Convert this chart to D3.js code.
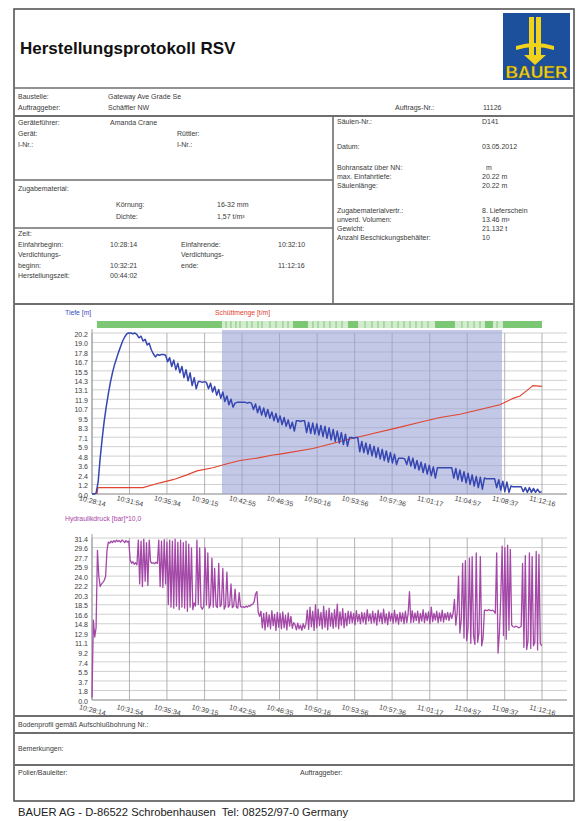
<!DOCTYPE html>
<html>
<head>
<meta charset="utf-8">
<script src="https://cdn.jsdelivr.net/npm/d3@7"></script>
<style>
  body { margin: 0; background: #fff; }
  svg { display: block; }
  text { font-family: "Liberation Sans", Arial, sans-serif; white-space: pre; }
</style>
</head>
<body>
<svg id="page" width="577" height="821"></svg>
<script>
// ---- time axis (shared by both diagrams) ----
const timeLabels = ["10:28:14", "10:31:54", "10:35:34", "10:39:15", "10:42:55", "10:46:35", "10:50:16",
                    "10:53:56", "10:57:36", "11:01:17", "11:04:57", "11:08:37", "11:12:16"];

// ---- y tick labels ----
const depthTicks = ["0.0", "1.2", "2.4", "3.6", "4.8", "5.9", "7.1", "8.3", "9.5", "10.7", "11.9",
                    "13.1", "14.3", "15.5", "16.7", "17.8", "19.0", "20.2"];
const pressureTicks = ["0.0", "1.8", "3.7", "5.5", "7.4", "9.2", "11.1", "12.9", "14.8", "16.6", "18.5",
                       "20.3", "22.2", "24.0", "25.9", "27.7", "29.6", "31.4"];

// ---- Tiefe [m], one reading every 12 s from Einfahrbeginn ----
const depthStep = 12;
const depth = [
  0, 0, 0.1, 1.5, 4.5, 7.0, 9.2, 11.0, 12.6, 14.0, 15.2, 16.2, 17.0, 17.8, 18.5, 19.2, 19.7, 20.1, 20.2, 20.2, 20.1, 20.2, 20.0,
  19.6, 19.8, 19.2, 19.4, 18.7, 18.9, 18.1, 17.6, 17.2,
  17.5, 17.4, 17.5, 17.5, 17.4,
  16.6, 17.1, 16.0, 16.8, 15.6, 16.4, 15.2, 16.0, 14.6, 15.6, 14.2, 15.2, 13.6, 14.6, 13.2,
  14.1, 14.1, 14.0, 14.1, 14.0,
  13.2, 13.9, 12.8, 13.5, 12.4, 13.1, 12.0, 12.8, 11.6, 12.3, 11.2, 11.9, 10.9,
  11.4, 11.5, 11.5, 11.5, 11.5, 11.5, 11.4, 11.5, 11.4,
  10.6, 11.3, 10.2, 11.0, 9.9, 10.8, 9.7, 10.6, 9.5, 10.3, 9.2, 10.1, 9.0, 9.8, 8.7, 9.6, 8.5, 9.3, 8.2, 9.0, 7.9,
  9.2, 9.2, 9.1, 9.2, 9.2,
  7.7, 9.0, 7.6, 8.9, 7.5, 8.8, 7.4, 8.6, 7.2, 8.5, 7.0, 8.3, 6.8, 8.1, 6.6, 7.9, 6.4, 7.7, 6.2, 7.5, 6.0,
  7.1, 7.1, 7.0, 7.1, 7.1,
  5.3, 6.6, 5.2, 6.4, 5.0, 6.2, 4.8, 6.0, 4.6, 5.8, 4.4, 5.6, 4.2, 5.4, 4.0, 5.2, 3.9, 5.0, 3.7,
  4.5, 4.5, 4.5, 4.4,
  3.7, 4.7, 3.5, 4.5, 3.2, 4.2, 3.0, 4.0, 2.7, 3.8, 2.5, 3.6, 2.3, 3.4, 2.0,
  3.3, 3.3, 3.3, 3.3, 3.3, 3.3, 3.3, 3.3,
  2.0, 3.2, 1.8, 3.0, 1.6, 2.8, 1.4, 2.6, 1.2, 2.4, 1.0, 2.2, 0.8, 2.1, 0.6, 2.0,
  1.9, 1.9, 1.9, 1.9, 1.9,
  0.8, 1.8, 0.5, 1.6, 0.3, 1.5, 0.2, 1.0,
  0.9, 0.9, 0.9, 0.9, 0.9,
  0.3, 0.8, 0.2, 0.8, 0.2, 0.7, 0.2, 0.6, 0.2, 0.3
];

// ---- Schüttmenge, seconds after Einfahrbeginn ----
const fillTimes  = [0, 30, 35, 299, 399, 476, 558, 616, 710, 793, 869, 969, 1063, 1104, 1297, 1497, 1650,
                    1791, 1926, 2043, 2161, 2278, 2395, 2472, 2513, 2560, 2589, 2642];
const fillValues = [0, 0.1, 0.8, 0.8, 1.4, 1.8, 2.4, 2.9, 3.3, 3.8, 4.2, 4.5, 4.9, 5.0, 5.7, 6.8, 7.6,
                    8.3, 9.0, 9.6, 10.0, 10.6, 11.2, 12.0, 12.3, 13.1, 13.6, 13.5];

// ---- Hydraulikdruck [bar]*10, one reading every 8 s ----
const pressureStep = 8;
const pressure = [
  0.5, 15.5, 12.2, 14.0, 29.0, 24.0, 22.0, 22.5, 22.8, 23.2, 24.0, 29.0, 30.6, 30.4, 30.8, 30.5, 30.9,
  30.6, 31.0, 30.7, 30.9, 30.6, 31.0, 30.8, 30.5, 30.9, 30.6, 30.8, 27.2, 26.5, 26.8, 26.3, 26.6, 26.2,
  31.0, 22.5, 30.8, 22.0, 31.2, 23.0, 30.5, 22.2, 31.0, 26.8, 26.5, 26.6, 26.4, 26.7, 26.5, 31.0, 22.0,
  30.8, 21.8, 31.1, 22.5, 30.6,
  18.5, 31.0, 18.0, 30.8, 17.8, 31.2, 18.2, 30.6, 17.5, 31.0, 18.0, 30.5, 17.8, 30.8, 17.2, 30.2, 18.0, 29.5, 17.5,
  18.8, 18.2, 31.0, 18.5, 29.5, 18.0, 17.6, 18.2, 29.5, 18.4, 28.5, 17.8, 18.6, 27.5, 18.0, 25.5, 18.3, 17.9,
  26.5, 18.1, 18.5, 25.5, 17.6, 18.2, 24.8, 18.0, 18.4, 22.5, 17.9, 18.2, 21.5, 18.0, 17.8, 20.8, 18.1, 18.0,
  18.1, 17.9, 18.2, 18.0, 18.3, 18.2, 18.5, 18.6, 19.0, 20.5, 21.0,
  17.0, 16.2,
  17.2, 14.0, 16.8, 13.6, 17.0, 14.2, 16.5, 13.8, 17.3, 14.4, 16.6, 13.5, 17.0, 14.1,
  16.8, 13.8, 17.1, 14.0, 16.4, 13.6, 16.9, 14.3, 16.2, 13.9, 15.0,
  14.6, 13.6, 14.9, 13.8, 14.5, 13.5, 14.8, 13.9, 14.7,
  17.4, 13.7, 18.0, 14.2, 17.2, 13.5, 18.5, 14.0, 17.6, 14.4, 17.0, 13.8, 18.2, 14.1, 17.3, 13.6, 17.8, 14.3,
  16.9, 13.9, 17.5, 14.2, 18.6, 13.8, 17.1, 14.5, 17.7, 14.0, 16.8, 14.4, 17.2,
  14.9, 17.1, 15.0, 16.8, 14.6, 17.3, 15.2, 16.6, 14.8, 17.0, 15.1, 16.9, 14.7, 17.5, 15.3, 16.7, 14.9, 17.2,
  15.0, 16.8, 14.5, 17.4, 15.2, 16.9, 14.8, 17.6, 15.0, 16.7, 14.6, 17.1, 15.3, 16.8, 14.9, 17.4, 15.1, 16.6,
  14.7, 17.0, 15.2, 16.9, 14.8, 17.2, 15.0, 16.7,
  21.0, 15.0,
  17.3, 15.1, 16.9, 15.4, 17.2, 14.9, 16.8, 15.3, 17.5, 15.0, 16.9, 15.4, 17.1, 14.8, 18.0, 15.2, 16.8, 15.5,
  17.2, 15.0, 16.9, 15.3, 17.4, 15.1, 16.8, 15.6, 17.0, 15.4, 16.9, 15.8,
  16.8, 19.5, 14.5, 17.0, 24.0, 13.0, 15.5, 26.5, 12.0, 27.0, 11.5, 14.0, 27.5, 11.0, 27.8, 12.5, 10.8, 28.5,
  11.2, 13.0, 27.8, 10.5, 12.0, 17.4,
  17.4, 17.3, 17.5, 17.4, 17.3, 17.4, 17.2, 16.8,
  28.5, 9.1, 13.0, 20.0, 29.8, 12.5, 29.5, 11.8, 30.0, 13.5, 29.2, 14.5,
  14.2, 14.1, 14.3, 14.2, 14.0, 14.1, 14.3,
  26.5, 10.2, 28.0, 9.8, 11.5, 28.5, 10.0, 27.8, 10.5, 11.2, 28.8, 9.7, 28.2, 11.0, 10.5
];

// ---- status strip above the depth diagram (seconds) ----
const statusFull = [[29, 763], [1180, 1268], [1503, 1562], [2014, 2131], [2307, 2354], [2413, 2642]];
const statusPartial = [[763, 2413]];
const statusMarks = [787, 816, 845, 869, 910, 939, 975, 998, 1045, 1080, 1121, 1151, 1297, 1327, 1362,
                     1397, 1433, 1468, 1603, 1644, 1679, 1714, 1761, 1797, 1832, 1867, 1902, 1937, 1973,
                     2172, 2207, 2243, 2278, 2378];
// compaction phase band (seconds)
const compactionBand = [763, 2407];

// =====================================================================
const svg = d3.select("#page");
const ink = "#3a3a3a";
const rule = "#6e6e6e";

// ---- page frame ----
svg.append("rect").attr("x", 14).attr("y", 9).attr("width", 560).attr("height", 792)
  .attr("fill", "none").attr("stroke", "#555").attr("stroke-width", 1.6);

function hline(y, x1 = 14, x2 = 574, w = 1.6) {
  svg.append("line").attr("x1", x1).attr("x2", x2).attr("y1", y).attr("y2", y)
    .attr("stroke", rule).attr("stroke-width", w);
}
function vline(x, y1, y2, w = 1.6) {
  svg.append("line").attr("x1", x).attr("x2", x).attr("y1", y1).attr("y2", y2)
    .attr("stroke", rule).attr("stroke-width", w);
}
function txt(s, x, y, opts = {}) {
  return svg.append("text").attr("x", x).attr("y", y)
    .attr("font-size", opts.size || 7).attr("fill", opts.fill || ink)
    .attr("font-weight", opts.weight || null)
    .attr("text-anchor", opts.anchor || "start")
    .text(s);
}

// ---- title and logo ----
txt("Herstellungsprotokoll RSV", 20, 54, { size: 17, weight: "bold", fill: "#111" });

const logo = svg.append("g").attr("transform", "translate(503,13)");
logo.append("rect").attr("width", 67).attr("height", 67).attr("fill", "#1c4f9c");
const gold = "#f1d31c";
logo.append("rect").attr("x", 26).attr("y", 4).attr("width", 5).attr("height", 42).attr("fill", gold);
logo.append("rect").attr("x", 33).attr("y", 4).attr("width", 5).attr("height", 42).attr("fill", gold);
logo.append("path").attr("d", "M13,33 Q32,27 51,33 L51,37 Q32,31 13,37 Z").attr("fill", gold);
logo.append("path").attr("d", "M21,42 L43,42 L32,52 Z").attr("fill", gold);
logo.append("text").attr("x", 33.5).attr("y", 65).attr("text-anchor", "middle")
  .attr("font-size", 16).attr("font-weight", "bold").attr("fill", gold)
  .attr("stroke", "#6b5a10").attr("stroke-width", 0.4)
  .attr("textLength", 62).attr("lengthAdjust", "spacingAndGlyphs").text("BAUER");

// ---- header form ----
hline(88);
txt("Baustelle:", 18, 99); txt("Gateway Ave Grade Se", 108, 99);
txt("Auftraggeber:", 18, 110); txt("Schäffler NW", 108, 110);
txt("Auftrags-Nr.:", 395, 110); txt("11126", 483, 110);
hline(116, 14, 574, 2.2);

vline(333, 116, 304);
txt("Geräteführer:", 18, 125); txt("Amanda Crane", 110, 125);
txt("Gerät:", 18, 136); txt("Rüttler:", 177, 136);
txt("I-Nr.:", 18, 147); txt("I-Nr.:", 177, 147);
hline(180, 14, 333);
txt("Zugabematerial:", 18, 191);
txt("Körnung:", 116, 207); txt("16-32 mm", 217, 207);
txt("Dichte:", 116, 219); txt("1,57 t/m³", 217, 219);
hline(228, 14, 333);
txt("Zeit:", 18, 236);
txt("Einfahrbeginn:", 18, 247); txt("10:28:14", 110, 247);
txt("Einfahrende:", 181, 247); txt("10:32:10", 278, 247);
txt("Verdichtungs-", 18, 257); txt("Verdichtungs-", 181, 257);
txt("beginn:", 18, 268); txt("10:32:21", 110, 268);
txt("ende:", 181, 268); txt("11:12:16", 278, 268);
txt("Herstellungszeit:", 18, 278); txt("00:44:02", 110, 278);

txt("Säulen-Nr.:", 337, 124); txt("D141", 482, 124);
txt("Datum:", 337, 149); txt("03.05.2012", 482, 149);
txt("Bohransatz über NN:", 337, 170); txt("m", 486, 170);
txt("max. Einfahrtiefe:", 337, 179); txt("20.22 m", 482, 179);
txt("Säulenlänge:", 337, 188); txt("20.22 m", 482, 188);
txt("Zugabematerialvertr.:", 337, 213); txt("8. Lieferschein", 482, 213);
txt("unverd. Volumen:", 337, 222); txt("13.46 m³", 482, 222);
txt("Gewicht:", 337, 231); txt("21.132 t", 482, 231);
txt("Anzahl Beschickungsbehälter:", 337, 240); txt("10", 482, 240);
hline(304, 14, 574, 2.2);

// ---- shared time scale ----
const parseT = d3.timeParse("%H:%M:%S");
const tStart = parseT(timeLabels[0]);
const tickSecs = timeLabels.map(s => (parseT(s) - tStart) / 1000);
const x = d3.scaleLinear().domain([0, tickSecs[tickSecs.length - 1]]).range([92, 542]);
const gridRight = 567;

function frame(p) {
  const y = d3.scaleLinear().domain([0, p.max]).range([p.bottom, p.top]);
  const n = p.labels.length;
  const vals = p.labels.map((_, i) => i * p.max / (n - 1));
  const g = svg.append("g");

  g.selectAll("line.h").data(vals).join("line").attr("class", "h")
    .attr("x1", x.range()[0]).attr("x2", gridRight)
    .attr("y1", d => y(d)).attr("y2", d => y(d))
    .attr("stroke", "#c4c4c4").attr("stroke-width", 0.8);
  g.selectAll("line.v").data(tickSecs).join("line").attr("class", "v")
    .attr("x1", d => x(d)).attr("x2", d => x(d))
    .attr("y1", p.top).attr("y2", p.bottom)
    .attr("stroke", "#a0a0a0").attr("stroke-width", 0.8);
  g.append("line").attr("x1", x.range()[0]).attr("x2", gridRight)
    .attr("y1", p.bottom).attr("y2", p.bottom).attr("stroke", "#9a9a9a").attr("stroke-width", 1);
  g.append("line").attr("x1", x.range()[0]).attr("x2", x.range()[0])
    .attr("y1", p.top - 4).attr("y2", p.bottom).attr("stroke", "#9a9a9a").attr("stroke-width", 1);

  const ya = svg.append("g").attr("transform", `translate(${x.range()[0]},0)`)
    .call(d3.axisLeft(y).tickValues(vals).tickFormat((d, i) => p.labels[i]).tickSize(0).tickPadding(4));
  ya.select(".domain").remove();
  ya.selectAll("text").attr("font-size", 7).attr("fill", "#3c3c3c").attr("dy", "0.45em")
    .attr("font-family", "Liberation Sans, Arial, sans-serif");

  const xa = svg.append("g").attr("transform", `translate(0,${p.bottom})`)
    .call(d3.axisBottom(x).tickValues(tickSecs).tickFormat((d, i) => timeLabels[i]).tickSize(0));
  xa.select(".domain").remove();
  xa.selectAll("text").attr("y", null).attr("dy", "0.35em")
    .attr("transform", `translate(0,${p.labelOffset}) rotate(14)`)
    .attr("font-size", 7).attr("fill", "#3c3c3c")
    .attr("font-family", "Liberation Sans, Arial, sans-serif");
  return y;
}

// ---- depth / fill diagram ----
txt("Tiefe [m]", 65, 315, { size: 6.8, fill: "#3b4cc0" });
txt("Schüttmenge [t/m]", 215, 315, { size: 6.8, fill: "#e0402e" });

const p1 = { top: 333, bottom: 494, max: 20.2, labels: depthTicks, labelOffset: 7 };
const yDepth = frame(p1);

svg.append("rect")
  .attr("x", x(compactionBand[0])).attr("width", x(compactionBand[1]) - x(compactionBand[0]))
  .attr("y", 330).attr("height", p1.bottom - 330)
  .attr("fill", "#98a0d6").attr("opacity", 0.58);

// status strip
const strip = svg.append("g");
strip.selectAll("rect.part").data(statusPartial).join("rect").attr("class", "part")
  .attr("x", d => x(d[0])).attr("width", d => x(d[1]) - x(d[0]))
  .attr("y", 321).attr("height", 7).attr("fill", "#d3ebcf");
strip.selectAll("line.mark").data(statusMarks).join("line").attr("class", "mark")
  .attr("x1", d => x(d)).attr("x2", d => x(d)).attr("y1", 321).attr("y2", 328)
  .attr("stroke", "#8fcf87").attr("stroke-width", 1.2);
strip.selectAll("rect.full").data(statusFull).join("rect").attr("class", "full")
  .attr("x", d => x(d[0])).attr("width", d => x(d[1]) - x(d[0]))
  .attr("y", 321).attr("height", 7).attr("fill", "#7cc774");

const fillLine = d3.line().x(d => x(d[0])).y(d => yDepth(d[1]));
svg.append("path").datum(fillTimes.map((t, i) => [t, fillValues[i]]))
  .attr("d", fillLine).attr("fill", "none").attr("stroke", "#e2432f").attr("stroke-width", 1.1);

const depthLine = d3.line().x((d, i) => x(i * depthStep)).y(d => yDepth(d));
svg.append("path").datum(depth).attr("d", depthLine)
  .attr("fill", "none").attr("stroke", "#3646b2").attr("stroke-width", 1.5).attr("stroke-linejoin", "round");

// ---- hydraulic pressure diagram ----
txt("Hydraulikdruck [bar]*10,0", 65, 521, { size: 6.8, fill: "#a845a8" });
const p2 = { top: 538, bottom: 700, max: 31.4, labels: pressureTicks, labelOffset: 10 };
const yPress = frame(p2);
const pressLine = d3.line().x((d, i) => x(i * pressureStep)).y(d => yPress(d));
svg.append("path").datum(pressure).attr("d", pressLine)
  .attr("fill", "none").attr("stroke", "#a448a8").attr("stroke-width", 1.3).attr("stroke-linejoin", "round");

// ---- footer form ----
hline(716, 14, 574, 2.2);
txt("Bodenprofil gemäß Aufschlußbohrung Nr.:", 18, 727);
hline(733, 14, 574, 2);
txt("Bemerkungen:", 18, 751);
hline(765, 14, 574, 2);
txt("Polier/Bauleiter:", 18, 775);
txt("Auftraggeber:", 300, 775);
txt("BAUER AG - D-86522 Schrobenhausen  Tel: 08252/97-0 Germany", 18, 816, { size: 11.2, fill: "#222" });
</script>
</body>
</html>
